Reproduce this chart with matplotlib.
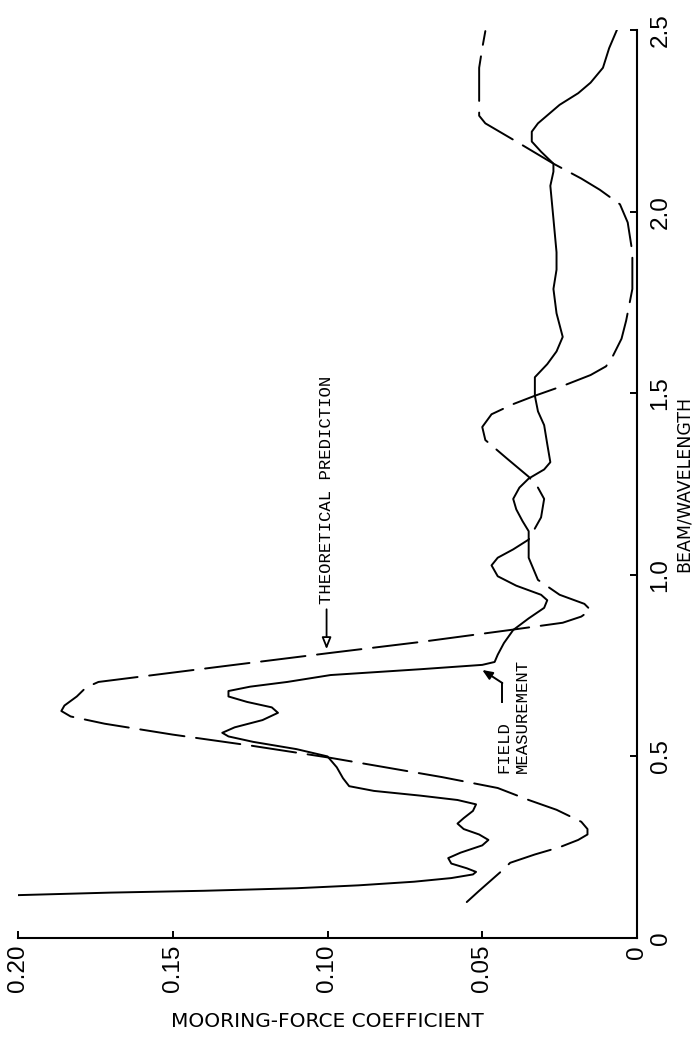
import matplotlib
matplotlib.use('Agg')
import matplotlib.pyplot as plt

# ---------------- data ----------------
# Field measurement (solid line): beam/wavelength vs mooring-force coefficient
field_beam = [0.118, 0.125, 0.130, 0.137, 0.145, 0.155, 0.165, 0.175, 0.182, 0.192,
              0.205, 0.220, 0.235, 0.255, 0.270, 0.285, 0.300, 0.315, 0.330, 0.350,
              0.368, 0.380, 0.392, 0.405, 0.418, 0.440, 0.470, 0.500, 0.520, 0.540,
              0.555, 0.565, 0.580, 0.600, 0.620, 0.635, 0.650, 0.665, 0.680, 0.692,
              0.705, 0.724, 0.740, 0.752, 0.760, 0.780, 0.812, 0.848, 0.880, 0.909,
              0.930, 0.945, 0.970, 0.996, 1.026, 1.047, 1.070, 1.097, 1.120, 1.148,
              1.180, 1.209, 1.240, 1.265, 1.290, 1.310, 1.360, 1.412, 1.450, 1.493,
              1.544, 1.580, 1.615, 1.655, 1.720, 1.787, 1.840, 1.888, 1.980, 2.071,
              2.110, 2.132, 2.165, 2.193, 2.220, 2.243, 2.294, 2.326, 2.355, 2.396,
              2.450, 2.500]
field_coef = [0.200, 0.170, 0.140, 0.110, 0.090, 0.072, 0.060, 0.053, 0.052, 0.055,
              0.060, 0.061, 0.057, 0.050, 0.048, 0.051, 0.056, 0.058, 0.056, 0.053,
              0.052, 0.058, 0.070, 0.085, 0.093, 0.095, 0.097, 0.100, 0.110, 0.124,
              0.132, 0.134, 0.130, 0.121, 0.116, 0.118, 0.126, 0.132, 0.132, 0.125,
              0.113, 0.099, 0.070, 0.050, 0.046, 0.045, 0.043, 0.040, 0.035, 0.030,
              0.029, 0.031, 0.039, 0.045, 0.047, 0.045, 0.040, 0.035, 0.035, 0.037,
              0.039, 0.040, 0.038, 0.035, 0.030, 0.028, 0.029, 0.030, 0.032, 0.033,
              0.033, 0.029, 0.026, 0.024, 0.026, 0.027, 0.026, 0.026, 0.027, 0.028,
              0.027, 0.027, 0.031, 0.034, 0.034, 0.032, 0.025, 0.019, 0.015, 0.011,
              0.009, 0.0065]

# Theoretical prediction (dashed line)
theory_beam = [0.099, 0.130, 0.160, 0.190, 0.207, 0.230, 0.250, 0.270, 0.285, 0.300,
               0.320, 0.353, 0.380, 0.413, 0.443, 0.471, 0.496, 0.530, 0.560, 0.590,
               0.610, 0.625, 0.640, 0.665, 0.690, 0.705, 0.720, 0.750, 0.785, 0.815,
               0.848, 0.868, 0.885, 0.903, 0.920, 0.945, 0.986, 1.047, 1.097, 1.158,
               1.209, 1.240, 1.270, 1.320, 1.371, 1.407, 1.442, 1.470, 1.493, 1.520,
               1.550, 1.574, 1.604, 1.650, 1.700, 1.787, 1.888, 1.970, 2.020, 2.060,
               2.091, 2.132, 2.193, 2.243, 2.264, 2.396, 2.450, 2.497]
theory_coef = [0.055, 0.051, 0.047, 0.043, 0.041, 0.033, 0.025, 0.019, 0.016, 0.016,
               0.018, 0.026, 0.035, 0.045, 0.063, 0.082, 0.099, 0.125, 0.150, 0.172,
               0.183, 0.186, 0.185, 0.181, 0.178, 0.174, 0.160, 0.132, 0.099, 0.070,
               0.041, 0.024, 0.018, 0.015, 0.017, 0.025, 0.032, 0.035, 0.035, 0.031,
               0.030, 0.032, 0.035, 0.042, 0.049, 0.050, 0.047, 0.040, 0.033, 0.024,
               0.015, 0.010, 0.0077, 0.005, 0.0035, 0.0015, 0.0015, 0.003, 0.0055, 0.012,
               0.018, 0.027, 0.039, 0.049, 0.051, 0.051, 0.050, 0.049]

coef_ticks = [0.0, 0.05, 0.10, 0.15, 0.20]
coef_tick_labels = ['0', '0.05', '0.10', '0.15', '0.20']
beam_ticks = [0.0, 0.5, 1.0, 1.5, 2.0, 2.5]
beam_tick_labels = ['0', '0.5', '1.0', '1.5', '2.0', '2.5']

coef_label = 'MOORING-FORCE COEFFICIENT'
beam_label = 'BEAM/WAVELENGTH'
theory_note = 'THEORETICAL PREDICTION'
field_note = 'FIELD\nMEASUREMENT'

# ---------------- figure ----------------
plt.rcParams['font.family'] = ['Liberation Sans', 'DejaVu Sans']
W, H = 696, 1038
fig = plt.figure(figsize=(W / 100, H / 100), dpi=100)
fig.patch.set_facecolor('white')
ax = fig.add_axes([18 / W, 100 / H, (637 - 18) / W, (938 - 30) / H])

# chart is drawn rotated: horizontal = coefficient (0.20 left -> 0 right),
# vertical = beam/wavelength (0 bottom -> 2.5 top)
ax.plot(field_coef, field_beam, color='black', lw=1.4,
        solid_joinstyle='round', solid_capstyle='round')
ax.plot(theory_coef, theory_beam, color='black', lw=1.4,
        linestyle=(0, (23, 6)), dash_capstyle='round')

ax.set_xlim(0.2, 0.0)
ax.set_ylim(0.0, 2.5)

for s in ['top', 'left']:
    ax.spines[s].set_visible(False)
for s in ['right', 'bottom']:
    ax.spines[s].set_linewidth(1.5)

ax.yaxis.tick_right()
ax.yaxis.set_label_position('right')
ax.set_xticks(coef_ticks, coef_tick_labels)
ax.set_yticks(beam_ticks, beam_tick_labels)
ax.tick_params(axis='both', direction='in', length=5, width=1.4, labelsize=17.5)
ax.tick_params(axis='x', labelrotation=90, pad=5)
ax.tick_params(axis='y', labelrotation=90, pad=9)
for lbl in ax.get_yticklabels():
    lbl.set_va('center')

ax.set_xlabel(coef_label, fontsize=14.5, family='DejaVu Sans', labelpad=14)
ax.set_ylabel(beam_label, fontsize=12.5, family='DejaVu Sans', labelpad=2)

mono = 'Liberation Mono'
ax.text(0.1003, 0.92, theory_note, rotation=90, ha='center', va='bottom',
        fontsize=12.4, family=mono)
ax.annotate('', xy=(0.1003, 0.795), xytext=(0.1003, 0.905),
            arrowprops=dict(arrowstyle='-|>,head_length=0.7,head_width=0.28',
                            fc='white', ec='black', lw=1.3,
                            shrinkA=0, shrinkB=0))

ax.text(0.040, 0.455, field_note, rotation=90, ha='center', va='bottom',
        multialignment='left', fontsize=12.4, family=mono, linespacing=1.25)
ax.plot([0.0435, 0.0435], [0.650, 0.702], color='black', lw=1.4)
ax.annotate('', xy=(0.0500, 0.738), xytext=(0.0435, 0.702),
            arrowprops=dict(arrowstyle='-|>,head_length=0.6,head_width=0.25',
                            fc='black', ec='black', lw=1.4,
                            shrinkA=0, shrinkB=0))

fig.savefig('out.png', dpi=100, facecolor='white')
